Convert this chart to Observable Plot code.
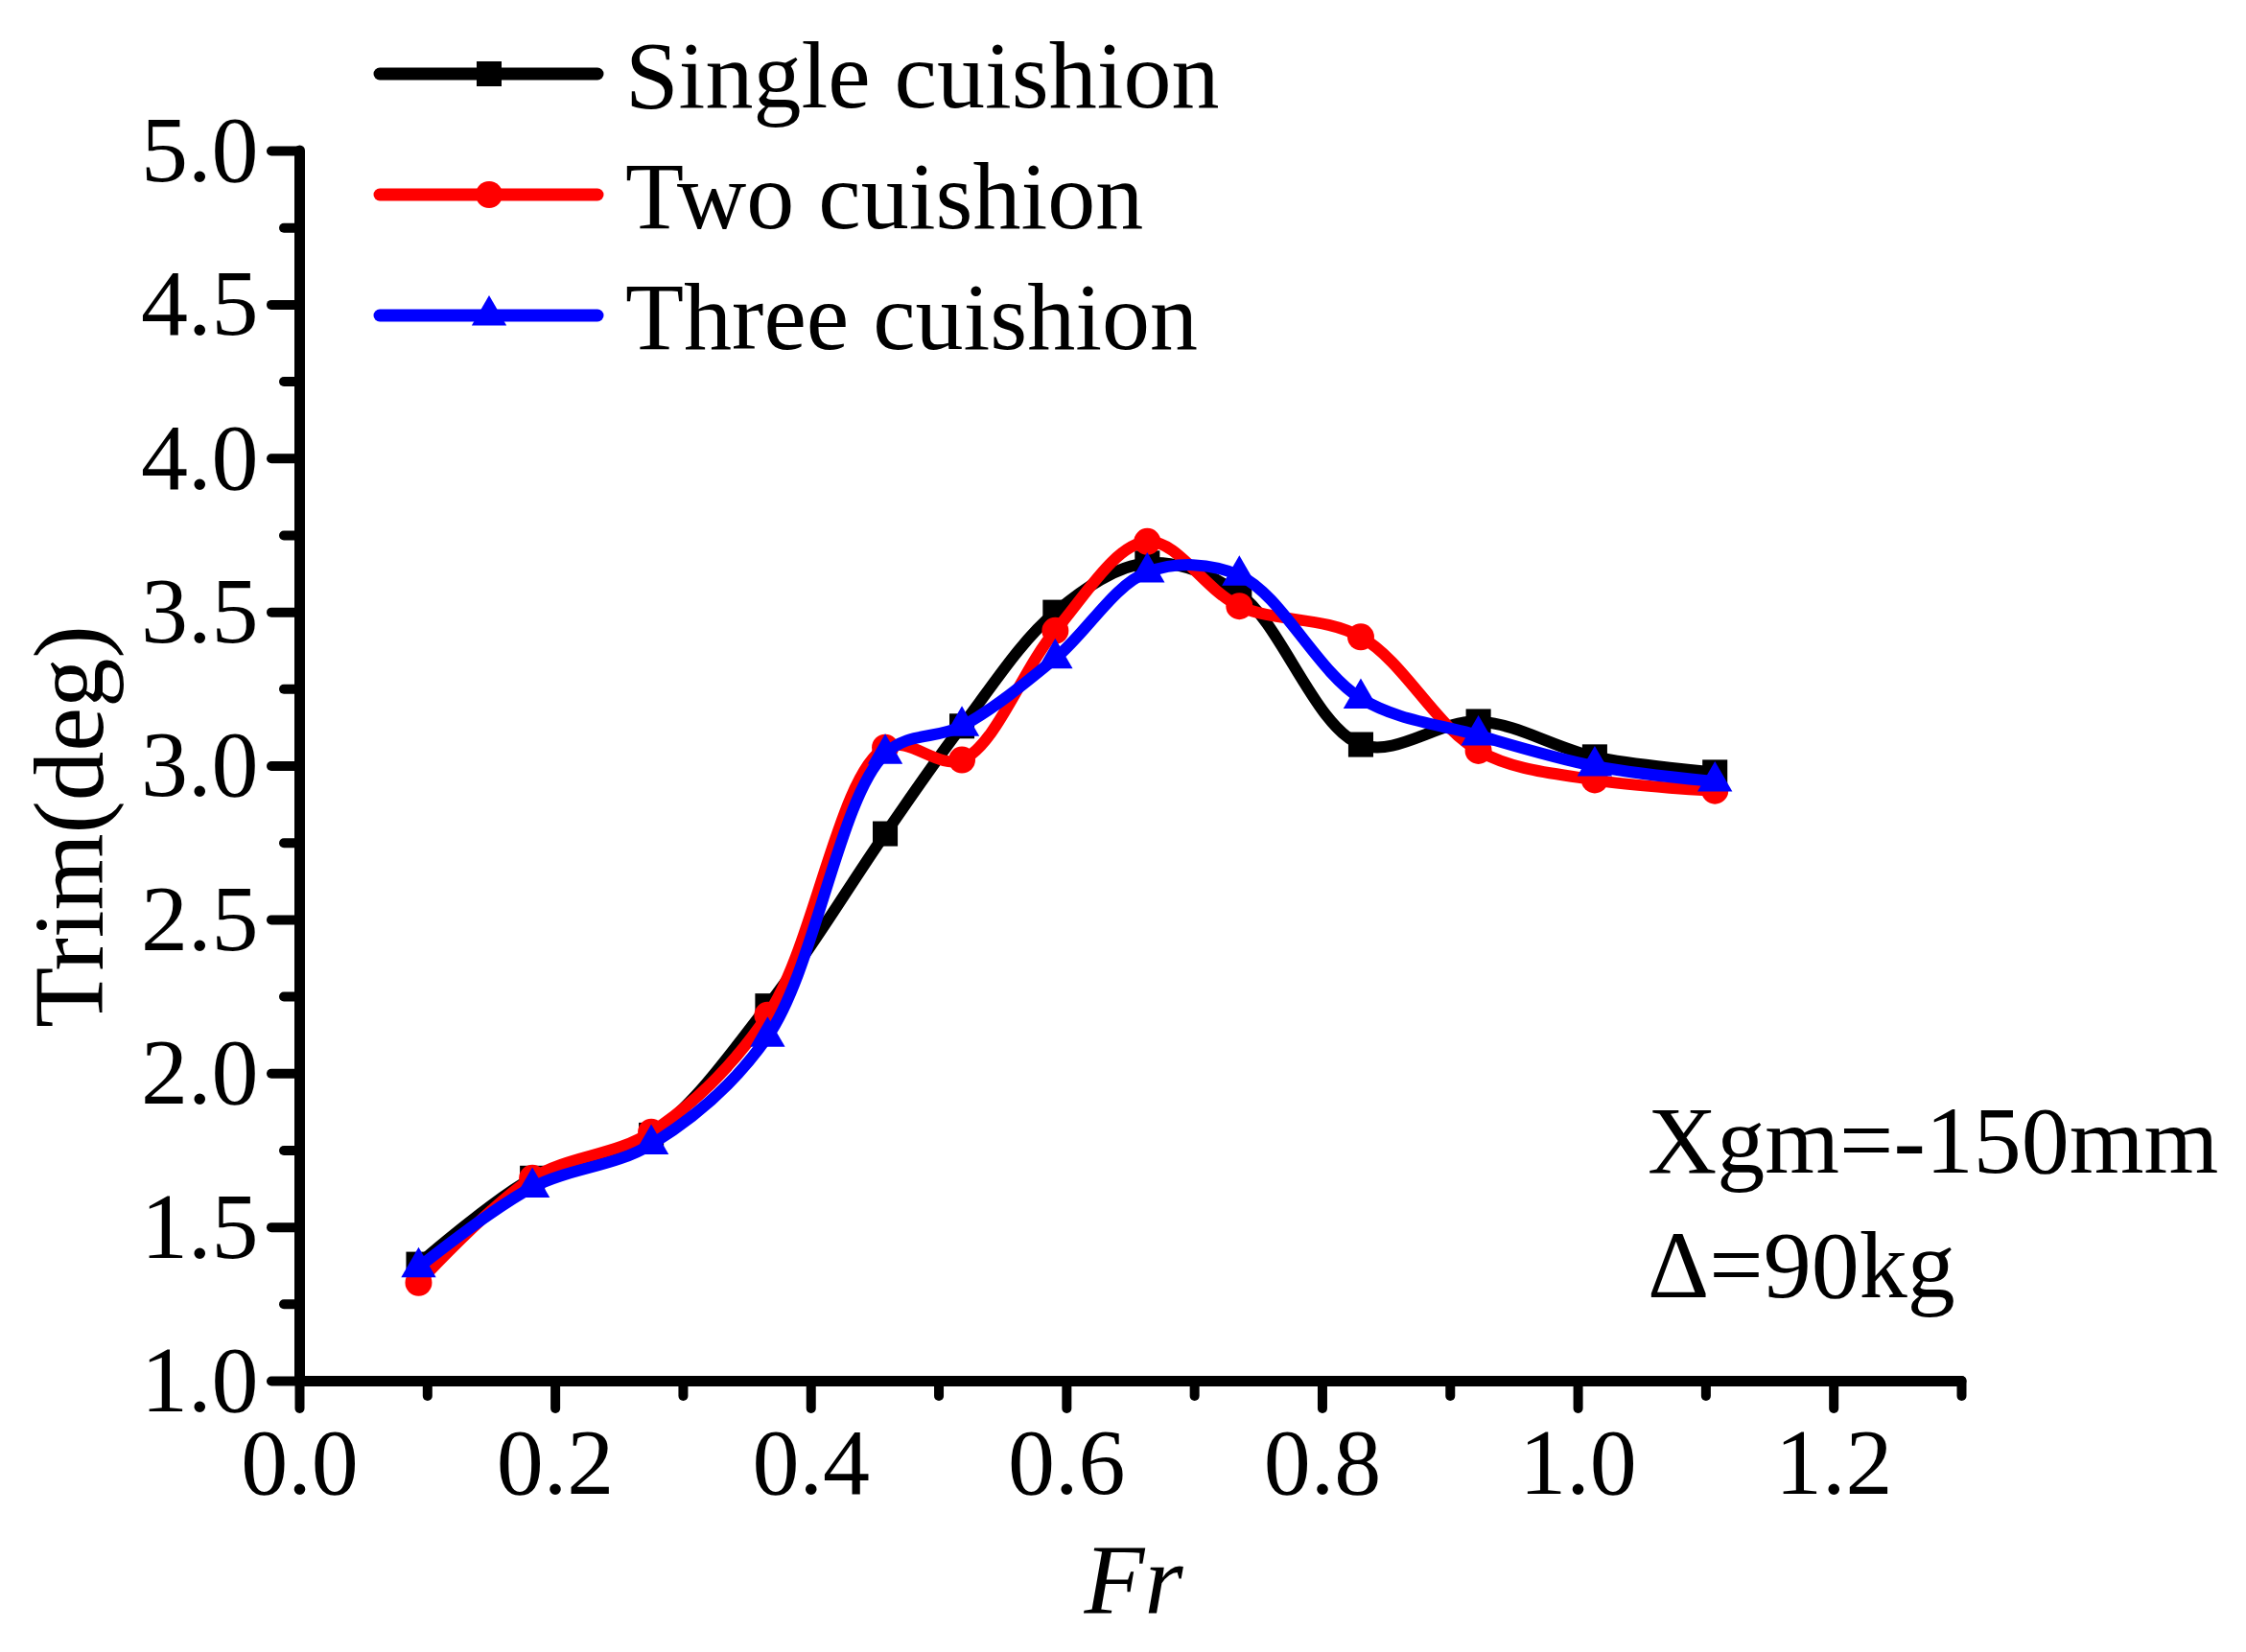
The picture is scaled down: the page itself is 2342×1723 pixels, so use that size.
<!DOCTYPE html>
<html><head><meta charset="utf-8">
<script src="https://cdn.jsdelivr.net/npm/d3@7"></script>
<script src="https://cdn.jsdelivr.net/npm/@observablehq/plot@0.6"></script>
<style>
html,body{margin:0;padding:0;background:#fff;}
#wrap{position:relative;width:2342px;height:1723px;overflow:hidden;}
#wrap svg{position:absolute;left:0;top:0;}
</style></head><body><div id="wrap"></div>
<script>
// ---- data ----
const fr     = [0.093, 0.182, 0.275, 0.366, 0.458, 0.518, 0.591, 0.663, 0.735, 0.830, 0.922, 1.013, 1.107];
const single = [1.38, 1.66, 1.80, 2.22, 2.78, 3.13, 3.50, 3.66, 3.56, 3.07, 3.145, 3.03, 2.98];
const two    = [1.32, 1.66, 1.81, 2.19, 3.06, 3.02, 3.44, 3.73, 3.52, 3.42, 3.05, 2.955, 2.92];
const three  = [1.37, 1.63, 1.77, 2.12, 3.04, 3.13, 3.35, 3.63, 3.62, 3.22, 3.10, 3.00, 2.95];
const seriesNames   = ["Single cuishion", "Two cuishion", "Three cuishion"];
const seriesColors  = ["#000000", "#ff0000", "#0000ff"];
const seriesSymbols = ["square", "circle", "triangle"];
const xTicks = [0, 0.2, 0.4, 0.6, 0.8, 1.0, 1.2];
const xTickLabels = ["0.0", "0.2", "0.4", "0.6", "0.8", "1.0", "1.2"];
const xMinor = [0.1, 0.3, 0.5, 0.7, 0.9, 1.1, 1.3];
const yTicks = [1.0, 1.5, 2.0, 2.5, 3.0, 3.5, 4.0, 4.5, 5.0];
const yTickLabels = ["1.0", "1.5", "2.0", "2.5", "3.0", "3.5", "4.0", "4.5", "5.0"];
const yMinor = [1.25, 1.75, 2.25, 2.75, 3.25, 3.75, 4.25, 4.75];
const xLabel = "Fr";
const yLabel = "Trim(deg)";
const notes = ["Xgm=-150mm", "\u0394=90kg"];

const seriesValues = [single, two, three];
const FONT = "'Liberation Serif','Times New Roman',serif";
const W = 2342, H = 1723;
const M = {top: 157, right: 297, bottom: 283, left: 312};

const symSize = {square: Math.PI * 14.7 * 14.7, circle: Math.PI * 14 * 14, triangle: Math.PI * 13.5 * 13.5};
const rOf = s => Math.sqrt(symSize[s] / Math.PI);

const seriesMarks = seriesNames.flatMap((name, k) => {
  const rows = fr.map((x, i) => ({x, y: seriesValues[k][i], s: name}));
  return [
    Plot.line(rows, {x: "x", y: "y", stroke: seriesColors[k], strokeWidth: 12, curve: "catmull-rom", strokeLinejoin: "round", strokeLinecap: "round"}),
    Plot.dot(rows, {x: "x", y: "y", fill: seriesColors[k], stroke: "none", symbol: seriesSymbols[k], r: rOf(seriesSymbols[k])})
  ];
});

const plot = Plot.plot({
  width: W, height: H,
  marginTop: M.top, marginRight: M.right, marginBottom: M.bottom, marginLeft: M.left,
  style: {fontFamily: FONT, fontSize: "100px", color: "#000", background: "transparent", overflow: "visible"},
  x: {domain: [0, 1.3]},
  y: {domain: [1, 5]},
  marks: [
    Plot.axisX({ticks: xTicks, tickFormat: d => xTickLabels[xTicks.indexOf(d)], tickSize: 29, tickPadding: 19, strokeWidth: 10, strokeLinecap: "round", fontSize: 98, label: null}),
    Plot.axisX({ticks: xMinor, tickSize: 16, strokeWidth: 10, strokeLinecap: "round", text: null, label: null}),
    Plot.axisY({ticks: yTicks, tickFormat: d => yTickLabels[yTicks.indexOf(d)], tickSize: 29, tickPadding: 14, strokeWidth: 10, strokeLinecap: "round", fontSize: 98, label: null}),
    Plot.axisY({ticks: yMinor, tickSize: 16, strokeWidth: 10, strokeLinecap: "round", text: null, label: null}),
    ...seriesMarks,
    Plot.ruleX([0], {stroke: "#000", strokeWidth: 11, strokeLinecap: "round"}),
    Plot.ruleY([1], {stroke: "#000", strokeWidth: 11, strokeLinecap: "round"})
  ]
});
document.getElementById("wrap").appendChild(plot);

// ---- overlay: legend, axis titles, notes ----
const ov = d3.select("#wrap").append("svg").attr("width", W).attr("height", H)
  .style("font-family", FONT).style("pointer-events", "none");

const legY = [77, 203, 329];
seriesNames.forEach((name, k) => {
  const g = ov.append("g");
  g.append("line").attr("x1", 396).attr("x2", 623).attr("y1", legY[k]).attr("y2", legY[k])
    .attr("stroke", seriesColors[k]).attr("stroke-width", 13).attr("stroke-linecap", "round");
  const symType = {square: d3.symbolSquare, circle: d3.symbolCircle, triangle: d3.symbolTriangle}[seriesSymbols[k]];
  g.append("path").attr("d", d3.symbol(symType, symSize[seriesSymbols[k]])())
    .attr("transform", `translate(510,${legY[k]})`).attr("fill", seriesColors[k]);
  g.append("text").attr("x", 652).attr("y", legY[k] + 35).attr("font-size", 100).attr("fill", "#000").text(name);
});

ov.append("text").attr("transform", "translate(107,862) rotate(-90)").attr("text-anchor", "middle")
  .attr("font-size", 103).attr("fill", "#000").text(yLabel);
ov.append("text").attr("x", 1182).attr("y", 1683).attr("text-anchor", "middle")
  .attr("font-size", 103).attr("font-style", "italic").attr("fill", "#000").text(xLabel);

notes.forEach((t, i) => {
  ov.append("text").attr("x", 1718).attr("y", 1223 + i * 130).attr("font-size", 100).attr("fill", "#000").text(t);
});
</script></body></html>
